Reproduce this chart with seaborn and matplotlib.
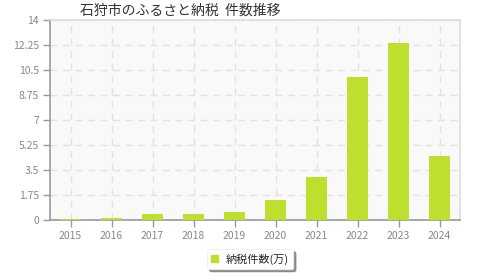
import matplotlib
matplotlib.use("Agg")
import matplotlib.pyplot as plt
import seaborn as sns
import pandas as pd
from matplotlib.patches import Patch

years = ["2015", "2016", "2017", "2018", "2019", "2020", "2021", "2022", "2023", "2024"]
counts = [0.07, 0.14, 0.44, 0.44, 0.56, 1.38, 3.03, 10.0, 12.42, 4.48]
yticks = [0, 1.75, 3.5, 5.25, 7, 8.75, 10.5, 12.25, 14]
ytick_labels = ["0", "1.75", "3.5", "5.25", "7", "8.75", "10.5", "12.25", "14"]
title = "石狩市のふるさと納税  件数推移"
series_name = "納税件数(万)"

sns.set_theme(style="white")
plt.rcParams["font.family"] = ["Noto Sans CJK JP", "DejaVu Sans"]

df = pd.DataFrame({"year": years, "count": counts})

fig = plt.figure(figsize=(4.8, 2.8), dpi=100)
ax = fig.add_axes([50/480, 60/280, 410/480, 200/280])
ax.set_facecolor("#f9f9f9")

bar_color = "#bde02e"
sns.barplot(data=df, x="year", y="count", color=bar_color, width=0.49,
            saturation=1, linewidth=0, edgecolor=bar_color, ax=ax, zorder=3)

ax.set_ylim(0, 14)
ax.set_xlim(-0.5, len(years) - 0.5)
ax.set_yticks(yticks)
ax.set_yticklabels(ytick_labels)
ax.set_xlabel("")
ax.set_ylabel("")

ax.grid(True, axis="both", color="#e2e2e2", linestyle=(0, (5, 4)), linewidth=1, zorder=0)
ax.set_axisbelow(True)

for s in ["top", "right"]:
    ax.spines[s].set_color("#dddddd")
    ax.spines[s].set_linewidth(1.2)
for s in ["left", "bottom"]:
    ax.spines[s].set_color("#999999")
    ax.spines[s].set_linewidth(1.2)

ax.tick_params(axis="both", which="both", direction="out", length=5, width=1,
               color="#999999", labelcolor="#888888", labelsize=7.5, pad=3)
ax.tick_params(axis="both", bottom=True, left=True)

fig.text(80/480, 1 - 11/280, title, ha="left", va="center", fontsize=10, color="#333333")

handle = Patch(facecolor=bar_color, edgecolor=bar_color)
leg = fig.legend(handles=[handle], labels=[series_name], loc="center",
                 bbox_to_anchor=(250/480, 1 - 259/280), frameon=True, fancybox=True,
                 shadow={"color": "#555555", "alpha": 0.6, "ox": 2, "oy": -2},
                 fontsize=8, handlelength=0.6, handleheight=0.6,
                 handletextpad=0.7, borderpad=0.4, borderaxespad=0)
leg.get_frame().set_edgecolor("#eeeeee")
leg.get_frame().set_facecolor("white")
leg.get_frame().set_linewidth(0.6)

fig.savefig("out.png", dpi=100)
